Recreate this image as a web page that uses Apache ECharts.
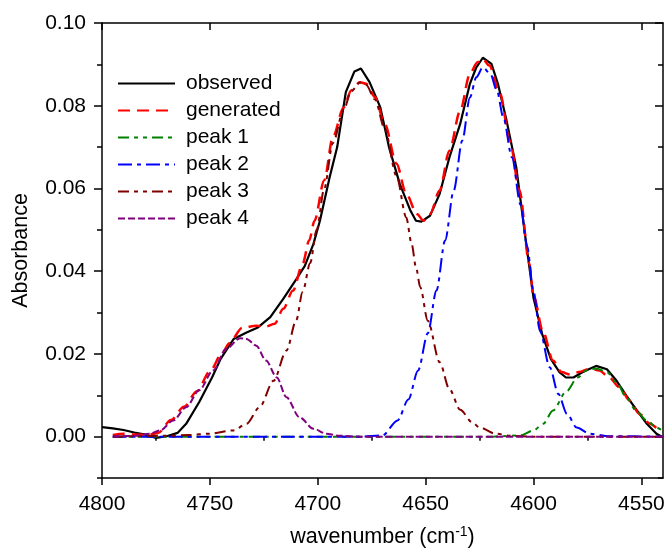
<!DOCTYPE html>
<html>
<head>
<meta charset="utf-8">
<script src="https://cdn.jsdelivr.net/npm/echarts@6/dist/echarts.min.js"></script>
<style>
  html, body { margin: 0; padding: 0; background: #fff; }
  #main { width: 669px; height: 548px; }
</style>
</head>
<body>
<div id="main"></div>
<script>
// tick positions
const xMajorTicks = [4800, 4750, 4700, 4650, 4600, 4550];
const xMinorTicks = [4775, 4725, 4675, 4625, 4575];
const yMajorTicks = [0, 0.02, 0.04, 0.06, 0.08, 0.10];
const yMinorTicks = [-0.01, 0.01, 0.03, 0.05, 0.07, 0.09];

// [wavenumber, absorbance]
const observed = [
  [4800, 0.0023], [4795, 0.0020], [4790, 0.0016], [4785, 0.0010], [4780, 0.0005],
  [4775, -0.0003], [4770, 0.0001], [4765, 0.0009], [4761, 0.0031], [4755, 0.0083],
  [4749, 0.0143], [4745, 0.0188], [4739, 0.0236], [4733, 0.0252], [4728, 0.0263],
  [4722, 0.0289], [4716, 0.0333], [4710, 0.0380], [4706, 0.0413], [4702, 0.0466],
  [4699, 0.0522], [4694.5, 0.0627], [4691, 0.0700], [4687, 0.0833], [4683, 0.0883],
  [4680, 0.0890], [4676, 0.0857], [4671, 0.0796], [4667, 0.0700], [4662, 0.0611],
  [4657, 0.0546], [4654.5, 0.0522], [4652, 0.0520], [4648, 0.0534], [4643.5, 0.0587],
  [4639, 0.0675], [4634, 0.0756], [4629.5, 0.0853], [4626.5, 0.0893], [4623.5, 0.0916],
  [4619.5, 0.0901], [4616.5, 0.0853], [4612.5, 0.0764], [4608, 0.0651], [4604, 0.0490],
  [4600, 0.0335], [4596, 0.0248], [4592, 0.0188], [4588, 0.0156], [4585, 0.0143],
  [4581.5, 0.0143], [4577, 0.0157], [4571, 0.0171], [4566, 0.0163], [4561.5, 0.0135],
  [4557, 0.0099], [4552, 0.0063], [4547.5, 0.0031], [4543, 0.0007], [4540, -0.0002]
];
const generated = [
  [4795, 0.0004], [4790, 0.0007], [4785, 0.0005], [4779, 0.0004], [4774, 0.0009],
  [4768, 0.0040], [4762, 0.0072], [4756, 0.0110], [4750, 0.0158], [4744, 0.0205],
  [4741, 0.0226], [4735, 0.0263], [4728.5, 0.0268], [4724, 0.0266], [4720, 0.0273],
  [4716, 0.0309], [4711.5, 0.0353], [4707, 0.0418], [4704, 0.0474], [4701.5, 0.0522],
  [4697, 0.0620], [4693, 0.0724], [4688, 0.0796], [4684.5, 0.0837], [4680.5, 0.0857],
  [4677.5, 0.0853], [4673.5, 0.0821], [4669, 0.0756], [4663.5, 0.0660], [4659, 0.0587],
  [4654, 0.0538], [4651, 0.0522], [4648, 0.0538], [4643.5, 0.0595], [4639, 0.0691],
  [4634, 0.0788], [4629.5, 0.0877], [4626, 0.0905], [4623.5, 0.0913], [4620.5, 0.0897],
  [4615.5, 0.0829], [4611, 0.0716], [4606.5, 0.0595], [4602, 0.0420], [4600, 0.0340],
  [4595.5, 0.0252], [4591, 0.0184], [4587, 0.0156], [4583, 0.0150], [4579, 0.0156],
  [4574, 0.0164], [4569.5, 0.0160], [4565, 0.0143], [4560, 0.0119], [4555.5, 0.0087],
  [4551, 0.0055], [4546, 0.0031], [4542, 0.0019], [4540, 0.0015]
];
const peak1 = [
  [4795, 0], [4620, 0], [4615, 0.0001], [4606, 0.0003], [4600, 0.0015],
  [4595.5, 0.0031], [4591, 0.0063], [4585, 0.0108], [4579.5, 0.0143], [4575.5, 0.0160],
  [4571, 0.0165], [4566, 0.0156], [4561.5, 0.0131], [4557, 0.0095], [4552.5, 0.0063],
  [4547.5, 0.0039], [4543, 0.0022], [4540, 0.0013]
];
const peak2 = [
  [4795, 0], [4680, 0], [4670, 0.0003], [4663, 0.0039], [4658, 0.0090],
  [4653.5, 0.0160], [4649, 0.0250], [4645, 0.0353], [4641, 0.0474], [4637, 0.0595],
  [4633, 0.0716], [4629.5, 0.0820], [4626.5, 0.0869], [4623.5, 0.0893], [4620, 0.0877],
  [4617, 0.0837], [4614, 0.0772], [4610, 0.0675], [4606, 0.0560], [4603, 0.0460],
  [4600, 0.0350], [4597, 0.0255], [4592.5, 0.0168], [4588.5, 0.0103], [4584.5, 0.0055],
  [4580, 0.0022], [4574, 0.0007], [4565, 0.0001], [4540, 0]
];
const peak3 = [
  [4795, 0], [4770, 0.0002], [4760, 0.0004], [4750, 0.0007], [4739, 0.0015],
  [4733, 0.0031], [4727, 0.0071], [4720.5, 0.0135], [4714.5, 0.0208], [4710, 0.0281],
  [4707, 0.0350], [4703.5, 0.0420], [4700.5, 0.0500], [4697, 0.0600], [4693, 0.0710],
  [4688, 0.0790], [4684.5, 0.0835], [4680.5, 0.0856], [4677.5, 0.0850], [4673.5, 0.0815],
  [4669, 0.0745], [4663.5, 0.0630], [4659, 0.0530], [4656.5, 0.0466], [4654.5, 0.0410],
  [4652.5, 0.0361], [4649, 0.0280], [4643.5, 0.0180], [4639, 0.0115], [4634, 0.0065],
  [4628.5, 0.0035], [4625, 0.0022], [4617.5, 0.0007], [4611, 0.0002], [4600, 0], [4540, 0]
];
const peak4 = [
  [4795, 0], [4785, 0.0002], [4778, 0.0007], [4773, 0.0015], [4767, 0.0039],
  [4761, 0.0071], [4755, 0.0112], [4748.5, 0.0160], [4742.5, 0.0212], [4736, 0.0238],
  [4733, 0.0236], [4728.5, 0.0220], [4724, 0.0184], [4719, 0.0143], [4714.5, 0.0095],
  [4708.5, 0.0047], [4702, 0.0019], [4696, 0.0007], [4690, 0.0002], [4680, 0], [4540, 0]
];

const FONT = "'Liberation Sans', Arial, Helvetica, sans-serif";
const INK = '#000';
const FS = 21;

function xAx(pos, ticks, len, inside, extra) {
  return Object.assign({
    type: 'value', position: pos, inverse: true, min: 4540, max: 4800,
    axisLine: { show: true, onZero: false, lineStyle: { color: INK, width: 1.5 } },
    axisTick: { show: true, inside: inside, length: len, customValues: ticks, lineStyle: { color: INK, width: 1.5 } },
    axisLabel: { show: false },
    splitLine: { show: false }
  }, extra || {});
}
function yAx(pos, ticks, len, inside, extra) {
  return Object.assign({
    type: 'value', position: pos, min: -0.01, max: 0.10,
    axisLine: { show: true, onZero: false, lineStyle: { color: INK, width: 1.5 } },
    axisTick: { show: true, inside: inside, length: len, customValues: ticks, lineStyle: { color: INK, width: 1.5 } },
    axisLabel: { show: false },
    splitLine: { show: false }
  }, extra || {});
}

const styles = [
  { name: 'observed', data: observed, color: '#000000', width: 2.2, type: 'solid', smooth: false },
  { name: 'generated', data: generated, color: '#ff0000', width: 2.5, type: [12, 7], smooth: 0.3 },
  { name: 'peak 1', data: peak1, color: '#008000', width: 2, type: [11, 5, 4, 5, 4, 5], smooth: 0.3 },
  { name: 'peak 2', data: peak2, color: '#0000ff', width: 2, type: [14, 5, 4, 5], smooth: 0.3 },
  { name: 'peak 3', data: peak3, color: '#800000', width: 2, type: [11, 5, 4, 5, 4, 5], smooth: 0.3 },
  { name: 'peak 4', data: peak4, color: '#800080', width: 2, type: [7, 3], smooth: 0.3 }
];

const series = styles.map(s => ({
  name: s.name,
  type: 'line',
  data: s.data,
  xAxisIndex: 0,
  yAxisIndex: 0,
  symbol: 'none',
  showSymbol: false,
  smooth: s.smooth,
  smoothMonotone: 'x',
  color: s.color,
  lineStyle: { color: s.color, width: s.width, type: s.type },
  itemStyle: { color: s.color }
}));

const options = {
  animation: false,
  backgroundColor: '#fff',
  textStyle: { fontFamily: FONT, color: INK },
  grid: { left: 102, right: 6, top: 23, bottom: 70, containLabel: false, outerBoundsMode: 'none' },
  legend: {
    orient: 'vertical',
    left: 117,
    top: 73,
    padding: 0,
    itemWidth: 57,
    itemHeight: 14,
    itemGap: 6,
    itemStyle: { opacity: 0 },
    data: styles.map(s => s.name),
    textStyle: { fontFamily: FONT, fontSize: FS, color: INK, padding: [0, 0, 0, 6] }
  },
  xAxis: [
    xAx('bottom', xMajorTicks, 7, false, {
      axisLabel: {
        show: true, customValues: xMajorTicks, margin: 16,
        fontFamily: FONT, fontSize: FS, color: INK,
        formatter: v => String(v)
      },
      name: 'wavenumber (cm{sup|-1})',
      nameLocation: 'middle',
      nameGap: 47,
      nameTextStyle: {
        fontFamily: FONT, fontSize: 21.5, color: INK, lineHeight: 25,
        rich: { sup: { fontFamily: FONT, fontSize: 14, color: INK, verticalAlign: 'top', lineHeight: 14 } }
      }
    }),
    xAx('bottom', xMinorTicks, 4, false, { axisLine: { show: false } }),
    xAx('top', xMajorTicks, 7, true),
    xAx('top', xMinorTicks, 4, true, { axisLine: { show: false } })
  ],
  yAxis: [
    yAx('left', yMajorTicks, 8, false, {
      axisLabel: {
        show: true, customValues: yMajorTicks, margin: 16,
        fontFamily: FONT, fontSize: FS, color: INK,
        formatter: v => v.toFixed(2)
      },
      name: 'Absorbance',
      nameLocation: 'middle',
      nameGap: 70,
      nameTextStyle: { fontFamily: FONT, fontSize: 21.5, color: INK }
    }),
    yAx('left', yMinorTicks, 5, false, { axisLine: { show: false } }),
    yAx('right', yMajorTicks, 8, true),
    yAx('right', yMinorTicks, 5, true, { axisLine: { show: false } })
  ],
  series
};

const myChart = echarts.init(document.getElementById('main'), null, { renderer: 'canvas' });
myChart.setOption(options);
window.onresize = function() {
  myChart.resize();
};
</script>
</body>
</html>
